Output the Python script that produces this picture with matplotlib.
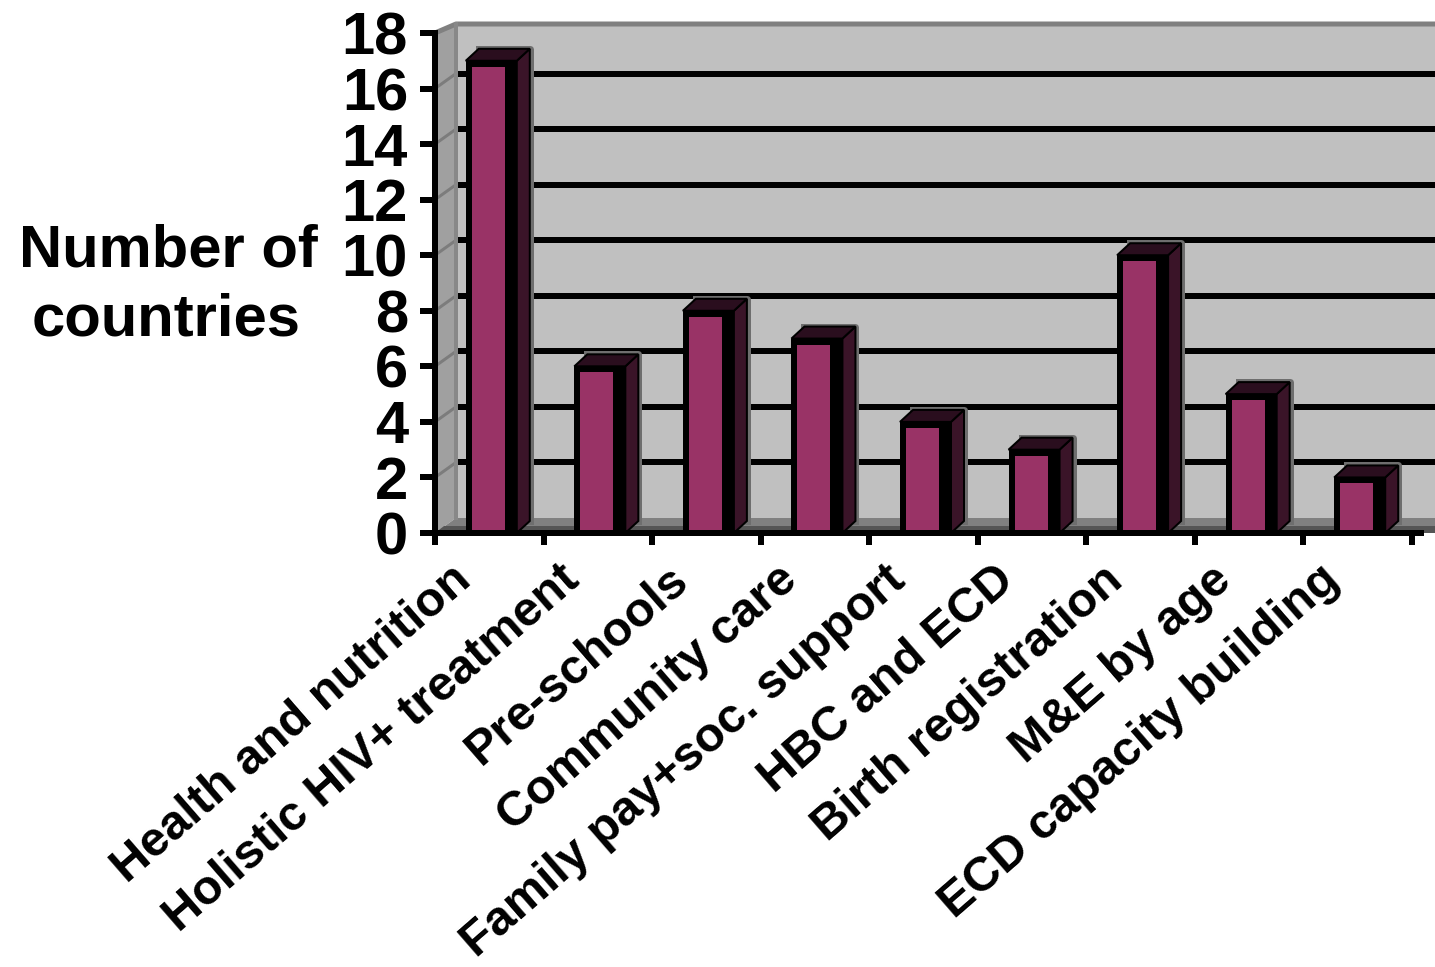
import matplotlib
matplotlib.use("Agg")
import matplotlib.pyplot as plt
from matplotlib.patches import Polygon, Rectangle
from matplotlib.transforms import ScaledTranslation

# Number of countries reporting each programme area
categories = ["Health and nutrition", "Holistic HIV+ treatment", "Pre-schools",
              "Community care", "Family pay+soc. support", "HBC and ECD",
              "Birth registration", "M&E by age", "ECD capacity building"]
countries = [17, 6, 8, 7, 4, 3, 10, 5, 2]
y_ticks = [0, 2, 4, 6, 8, 10, 12, 14, 16, 18]

plt.rcParams['font.family'] = ['Liberation Sans', 'DejaVu Sans']
plt.rcParams['font.weight'] = 'bold'

W, H = 1435, 967
fig = plt.figure(figsize=(W / 100, H / 100), dpi=100)

# plot box in pixels: x 0..9 and y 0..18 on the front plane
X0, X1, Y0, Y1 = 435, 1412, 533, 33
ax = fig.add_axes([X0 / W, 1 - Y0 / H, (X1 - X0) / W, (Y0 - Y1) / H])
ax.set_xlim(0, len(categories))
ax.set_ylim(0, 18)
ax.patch.set_visible(False)
ux = (X1 - X0) / len(categories)
uy = (Y0 - Y1) / 18.0

def px(n):
    return n * 72 / 100.0

# depth of the walls and of the columns (pixels -> data units)
wall_dx, wall_dy = 21 / ux, 15 / uy
wall_top = 18 + 9 / uy
bar_dx, bar_dy = 13 / ux, 12 / uy
x_end = (W + 10 - X0) / ux

# back wall, side wall, floor
ax.add_patch(Rectangle((wall_dx, wall_dy), x_end - wall_dx, wall_top - wall_dy,
                       facecolor='#c0c0c0', edgecolor='none', zorder=0, clip_on=False))
ax.add_patch(Polygon([(0, 0), (0, 18), (wall_dx, wall_top), (wall_dx, wall_dy)],
                     closed=True, facecolor='#a0a0a0', edgecolor='none', zorder=0, clip_on=False))
ax.add_patch(Polygon([(0, 0), (x_end, 0), (x_end, wall_dy), (wall_dx, wall_dy)],
                     closed=True, facecolor='#808080', edgecolor='none', zorder=0.2, clip_on=False))
ax.add_patch(Polygon([(0, 0), (x_end, 0), (x_end, wall_dy * 0.45), (wall_dx * 0.45, wall_dy * 0.45)],
                     closed=True, facecolor='#555555', edgecolor='none', zorder=0.3, clip_on=False))

# gridlines on the back wall and their traces on the side wall
for v in y_ticks[1:-1]:
    ax.plot([wall_dx, x_end], [v + wall_dy, v + wall_dy], color='black', lw=px(6),
            solid_capstyle='butt', zorder=0.5, clip_on=False)
    ax.plot([0, wall_dx], [v, v + wall_dy], color='#7c7c7c', lw=px(3),
            solid_capstyle='butt', zorder=0.5, clip_on=False)
ax.plot([0, wall_dx, x_end], [18, wall_top, wall_top], color='#808080',
        lw=px(5), solid_capstyle='butt', zorder=0.6, clip_on=False)
ax.plot([wall_dx, wall_dx], [wall_dy, wall_top], color='#888888', lw=px(4), zorder=0.6,
        clip_on=False)

# 3-D columns: black front block with a pink panel, dark side and top
half = 25.5 / ux
for i, v in enumerate(countries):
    cx = i + 0.5 + 2 / ux
    xl, xr = cx - half, cx + half
    ax.plot([xl + bar_dx, xr + bar_dx, xr + bar_dx], [v + bar_dy, v + bar_dy, bar_dy],
            color='#6e6e6e', lw=px(7), zorder=1, clip_on=False)
    ax.add_patch(Polygon([(xr, 0), (xr, v), (xr + bar_dx, v + bar_dy), (xr + bar_dx, bar_dy)],
                         closed=True, facecolor='#3a1428', edgecolor='black', lw=px(2),
                         zorder=2, clip_on=False))
    ax.add_patch(Polygon([(xl, v), (xr, v), (xr + bar_dx, v + bar_dy), (xl + bar_dx, v + bar_dy)],
                         closed=True, facecolor='#2a0e1e', edgecolor='black', lw=px(2),
                         zorder=2, clip_on=False))
    ax.add_patch(Rectangle((xl, 0), xr - xl, v, facecolor='black', edgecolor='none',
                           zorder=3, clip_on=False))
    ax.add_patch(Rectangle((xl + 6 / ux, 0), xr - xl - 18 / ux, v - 6 / uy,
                           facecolor='#993366', edgecolor='none', zorder=3.5, clip_on=False))

# axes lines and ticks
for side in ('top', 'right'):
    ax.spines[side].set_visible(False)
for side in ('left', 'bottom'):
    ax.spines[side].set_linewidth(px(6))
    ax.spines[side].set_zorder(10)
    ax.spines[side].set_capstyle('projecting')
ax.plot([len(categories), len(categories) + 12 / ux], [0, 0], color='black', lw=px(6),
        solid_capstyle='butt', zorder=10, clip_on=False)

ax.set_yticks(y_ticks)
ax.set_yticklabels([str(t) for t in y_ticks])
ax.tick_params(axis='y', direction='out', length=px(15), width=px(6), pad=px(12),
               labelsize=43)
ax.set_xticks(range(len(categories) + 1))
ax.set_xticklabels([])
ax.tick_params(axis='x', direction='out', length=px(12), width=px(6))
for lab in ax.get_yticklabels():
    lab.set_fontweight('bold')

# category labels, slanted
for i, name in enumerate(categories):
    tr = ax.transData + ScaledTranslation(-24 / 100, -41 / 100, fig.dpi_scale_trans)
    ax.text(i + 0.5, 0, name, transform=tr, rotation=41, rotation_mode='anchor',
            ha='right', va='center', fontsize=35, fontweight='bold', clip_on=False)

# axis title, two centred lines
fig.text(168 / W, 1 - 267 / H, "Number of", ha='center', va='baseline', fontsize=43,
         fontweight='bold')
fig.text(166 / W, 1 - 335 / H, "countries", ha='center', va='baseline', fontsize=43,
         fontweight='bold')

fig.savefig("out.png", dpi=100, facecolor='white')
